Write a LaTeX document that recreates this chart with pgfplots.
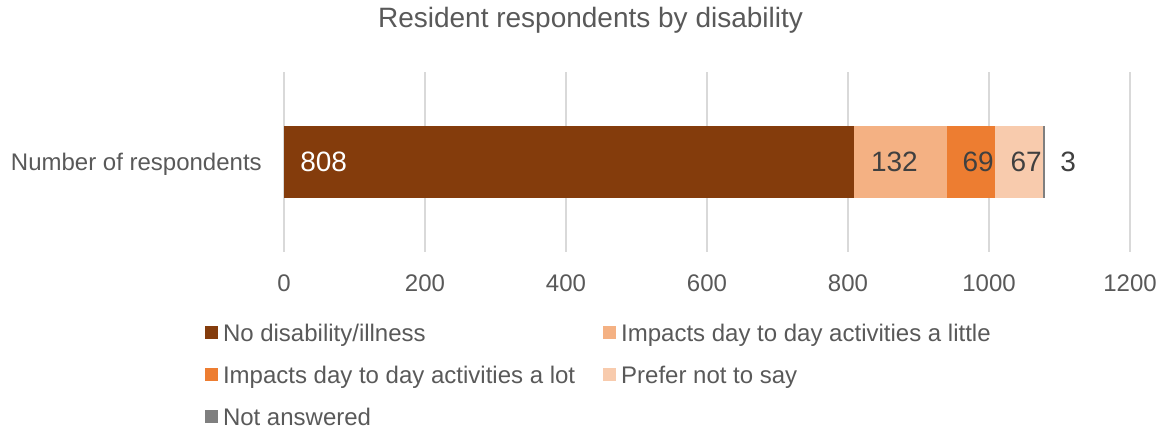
\documentclass[border=0pt]{standalone}
\usepackage{fontspec}
\setmainfont{Liberation Sans}
\usepackage{pgfplots}
\pgfplotsset{compat=1.18}

\definecolor{noDis}{HTML}{843C0C}
\definecolor{little}{HTML}{F4B183}
\definecolor{alot}{HTML}{ED7D31}
\definecolor{prefer}{HTML}{F8CBAD}
\definecolor{notans}{HTML}{7F7F7F}
\definecolor{txt}{HTML}{595959}
\definecolor{lbl}{HTML}{404040}
\definecolor{gridc}{HTML}{D9D9D9}

\newcommand{\lblfont}{\fontsize{21}{25}\selectfont}
\newcommand{\tkfont}{\fontsize{18}{21.6}\selectfont}

\begin{document}
\begin{tikzpicture}
\useasboundingbox (0,0) rectangle (876.75pt,321pt);
\begin{axis}[
  at={(213pt,132pt)}, anchor=south west,
  scale only axis, width=634.5pt, height=135pt,
  xbar stacked, bar width=54pt,
  xmin=0, xmax=1200, ymin=-1.25, ymax=1.25,
  xtick={0,200,...,1200},
  ytick={0}, yticklabels={Number of respondents},
  xmajorgrids, grid style={gridc, line width=1.1pt},
  axis line style={draw=none},
  major tick length=0pt, tick style={draw=none},
  /pgf/number format/assume math mode=true,
  /pgf/number format/1000 sep={},
  ticklabel style={txt, font=\tkfont, inner sep=0pt},
  xticklabel style={anchor=north, yshift=-16.8pt},
  yticklabel style={anchor=base east, xshift=-16.5pt, yshift=-6.45pt},
  title={Resident respondents by disability},
  title style={at={(0.3623,1)}, anchor=base, yshift=27pt, inner sep=0pt,
    text=txt, font=\fontsize{21}{25}\selectfont},
  % value labels sit at the middle of each stacked segment; shifts are from there
  nodes near coords, point meta=explicit,
  every node near coord/.append style={font=\lblfont, inner sep=0pt, text=lbl},
  legend columns=2,
  legend cell align=left,
  legend image code/.code={\fill[#1] (0pt,-4.875pt) rectangle (9.75pt,4.875pt);},
  legend style={at={(0,0)}, anchor=north west, xshift=-59.25pt, yshift=-53.75pt,
    draw=none, fill=none, inner sep=0pt, outer sep=0pt,
    font=\tkfont, text=txt, row sep=18.5pt,
    nodes={inner sep=0pt, text height=13pt, text depth=0pt},
    /tikz/every odd column/.append style={column sep=3.75pt},
    /tikz/column 2/.append style={column sep=21pt}},
]
\addplot[fill=noDis, draw=none,
  every node near coord/.append style={text=white, anchor=base west, xshift=-201.6pt, yshift=-7.5pt}]
  coordinates {(808,0) [808]};
\addplot[fill=little, draw=none,
  every node near coord/.append style={anchor=base, xshift=-4.3pt, yshift=-7.5pt}]
  coordinates {(132,0) [132]};
\addplot[fill=alot, draw=none,
  every node near coord/.append style={anchor=base east, xshift=17.25pt, yshift=-7.5pt}]
  coordinates {(69,0) [69]};
\addplot[fill=prefer, draw=none,
  every node near coord/.append style={anchor=base east, xshift=17.25pt, yshift=-7.5pt}]
  coordinates {(67,0) [67]};
\addplot[fill=notans, draw=none,
  every node near coord/.append style={anchor=base west, xshift=12.3pt, yshift=-7.5pt}]
  coordinates {(3,0) [3]};
\legend{No disability/illness, Impacts day to day activities a little,
  Impacts day to day activities a lot, Prefer not to say, Not answered}
\end{axis}
\end{tikzpicture}
\end{document}
